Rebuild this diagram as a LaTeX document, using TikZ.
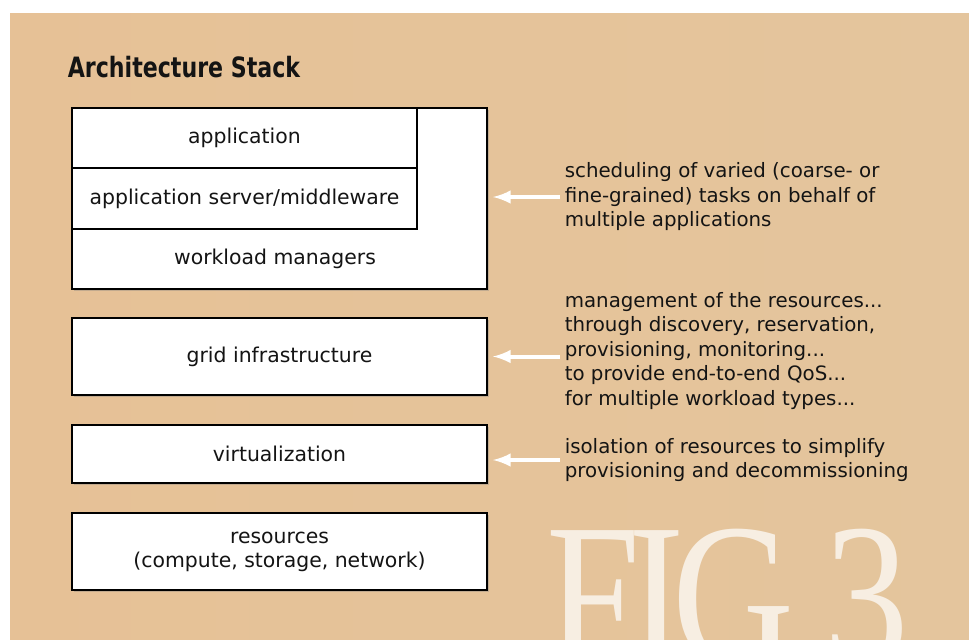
\documentclass[tikz,border=0pt]{standalone}
\usepackage{fontspec}
\setmainfont{DejaVu Sans}
\newfontfamily\titlefont[FakeStretch=0.79]{DejaVu Sans}
\newfontfamily\figfont[FakeStretch=0.82,LetterSpace=-6]{Liberation Serif}
\usetikzlibrary{arrows,shadows}

\definecolor{tanleft}{HTML}{E6C196}
\definecolor{tanmid}{HTML}{E9BC8E}
\definecolor{tanright}{HTML}{E4C59D}
\definecolor{figwhite}{HTML}{F7EEE2}

\begin{document}
\begin{tikzpicture}[x=0.5pt,y=-0.5pt,thick,
  every node/.style={text=black!92},
  layer/.style={draw=black,line width=1pt,fill=white,inner sep=0pt,font=\fontsize{10.2}{12}\selectfont},
  shadowed/.style={drop shadow={shadow xshift=1pt,shadow yshift=-1pt,opacity=0.35}},
  note/.style={anchor=west,align=left,inner sep=0pt,inner xsep=2pt,font=\fontsize{9.9}{12.25}\selectfont},
  hint/.style={white,line width=2pt,-latex,shorten >=2.5pt}]

\useasboundingbox (0,0) rectangle (969,639);
\fill[white] (0,0) rectangle (969,639);
\shade[left color=tanleft,middle color=tanmid,right color=tanright] (10,13) rectangle (969,639);

% big letters in the corner
\begin{scope}
\clip (10,13) rectangle (969,639);
\node[anchor=base west,inner sep=0pt,text=figwhite,font=\figfont\fontsize{103}{103}\selectfont] (fig) at (546,665) {FIG 3};
\end{scope}

\node[anchor=base west,inner sep=0pt,font=\titlefont\bfseries\fontsize{14}{16}\selectfont] (title) at (67,77) {Architecture Stack};

% the stack
\node[layer,shadowed,minimum width=207.5pt,minimum height=90.5pt] (wlm) at (279.5,198.5) {};
\node[layer,minimum width=172.5pt,minimum height=30pt] (app) at (244.5,138) {application};
\node[layer,minimum width=172.5pt,minimum height=30.5pt] (mid) at (244.5,198.5) {application server/middleware};
\node[font=\fontsize{10.2}{12}\selectfont] (wlmtxt) at (275,259) {workload managers};
\node[layer,shadowed,minimum width=207.5pt,minimum height=38.5pt] (grid) at (279.5,356.5) {grid infrastructure};
\node[layer,shadowed,minimum width=207.5pt,minimum height=29pt] (virt) at (279.5,454) {virtualization};
\node[layer,shadowed,minimum width=207.5pt,minimum height=38.5pt,align=center] (res) at (279.5,551.5) {resources\\(compute, storage, network)};

% notes on the right
\node[note] (sched) at (560,197) {scheduling of varied (coarse- or\\fine-grained) tasks on behalf of\\multiple applications};
\node[note] (mgmt) at (560,351) {management of the resources...\\through discovery, reservation,\\provisioning, monitoring...\\to provide end-to-end QoS...\\for multiple workload types...};
\node[note] (iso) at (560,460) {isolation of resources to simplify\\provisioning and decommissioning};

\draw[hint] (sched.west) -- (sched.west -| wlm.east);
\draw[hint] (grid.east -| mgmt.west) -- (grid.east);
\draw[hint] (iso.west) -- (iso.west -| virt.east);

\end{tikzpicture}
\end{document}
